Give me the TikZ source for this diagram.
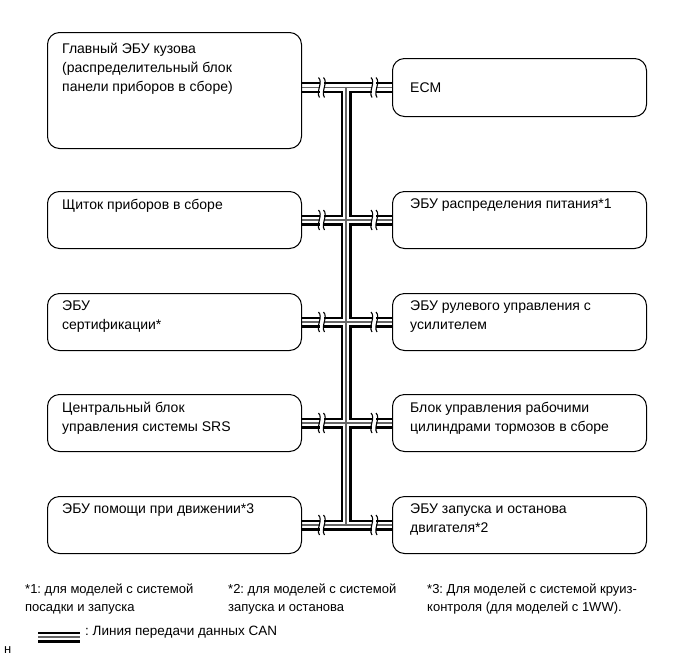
\documentclass[tikz,border=0pt]{standalone}
\usepackage{fontspec}
\setmainfont{Liberation Sans}
\frenchspacing
\usetikzlibrary{backgrounds}
\begin{document}
\begin{tikzpicture}[x=1pt,y=-1pt,
  ebu/.style={draw,line width=1pt,rounded corners=12pt,minimum width=254pt,anchor=north west,inner sep=0pt},
  txt/.style={anchor=north west,align=left,inner sep=0pt,font=\fontsize{14}{19}\selectfont},
  note/.style={anchor=north west,align=left,inner sep=0pt,font=\fontsize{13}{17.5}\selectfont},
  canout/.style={line width=11pt,black},
  canmid/.style={line width=6.5pt,white},
  cancore/.style={line width=1.6pt,black!60},
  brk/.style={line width=1.1pt}]
  \useasboundingbox (0,0) rectangle (686,662);
  \node[ebu,minimum height=116pt] (l1) at (47,32) {};
  \node[ebu,minimum height=58pt] (r1) at (392,58) {};
  \foreach \n/\y in {2/191,3/293,4/394,5/496}{
    \node[ebu,minimum height=57pt] (l\n) at (47,\y) {};
    \node[ebu,minimum height=57pt] (r\n) at (392,\y) {};
  }
  \node[txt] (l1t) at ([shift={(15,11)}]l1.north west) {Главный ЭБУ кузова\\(распределительный блок\\панели приборов в сборе)};
  \node[txt] (r1t) at ([shift={(18,25)}]r1.north west) {ECM};
  \foreach \b/\t in {l2/{Щиток приборов в сборе},l3/{ЭБУ\\сертификации*},l4/{Центральный блок\\управления системы SRS},l5/{ЭБУ помощи при движении*3}}
    \node[txt] (\b t) at ([shift={(15,8)}]\b.north west) {\t};
  \foreach \b/\t in {r2/{ЭБУ распределения питания*1},r3/{ЭБУ рулевого управления с\\усилителем},r4/{Блок управления рабочими\\цилиндрами тормозов в сборе},r5/{ЭБУ запуска и останова\\двигателя*2}}
    \node[txt] (\b t) at ([shift={(18,8)}]\b.north west) {\t};
  \coordinate (bx) at (346,0);
  \begin{scope}[on background layer]
    \foreach \s in {canout,canmid,cancore}{
      \draw[\s] (r1.west -| bx) -- (r5.west -| bx);
      \foreach \n in {1,...,5}
        \draw[\s] (l1.east |- r\n.west) -- (r\n.west);
    }
  \end{scope}
  \foreach \n in {1,...,5}
    \foreach \d in {-24.5,28}{
      \path (r\n.west -| bx) ++(\d,0) coordinate (k);
      \begin{scope}[shift={(k)}]
        \fill[white] (-2,-7) rectangle (2,7);
        \draw[brk] (-3,-10) .. controls (2,-5) and (-6,4) .. (-2,10);
        \draw[brk] (2,-10) .. controls (7,-5) and (-1,4) .. (3,10);
      \end{scope}
    }
  \node[note] (f1) at (25,584) {*1: для моделей с системой\\посадки и запуска};
  \node[note] (f2) at (228,584) {*2: для моделей с системой\\запуска и останова};
  \node[note] (f3) at (427,584) {*3: Для моделей с системой круиз-\\контроля (для моделей с 1WW).};
  \coordinate (g1) at (38,637);
  \coordinate (g2) at (80,637);
  \foreach \s in {canout,canmid,cancore}
    \draw[\s] (g1) -- (g2);
  \node[note,anchor=west,font=\fontsize{13.5}{17}\selectfont] (gt) at (85,632) {: Линия передачи данных CAN};
  \node[note,anchor=west] (h) at (4,650) {н};
\end{tikzpicture}
\end{document}
